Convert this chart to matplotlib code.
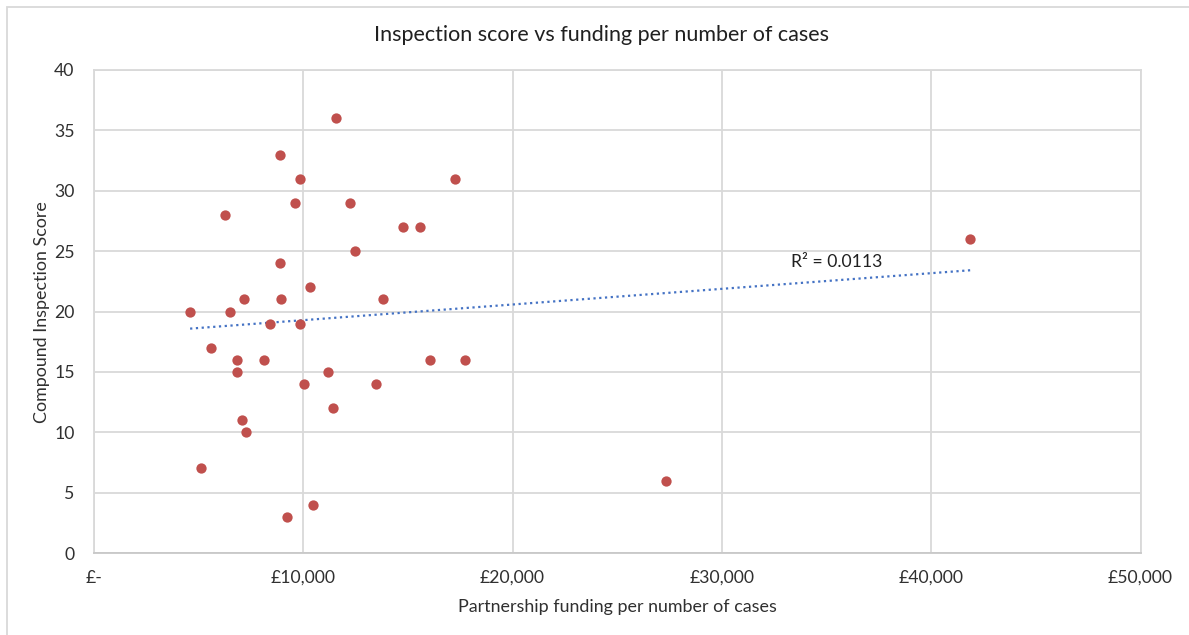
import numpy as np
import matplotlib
matplotlib.use("Agg")
import matplotlib.pyplot as plt
from matplotlib.ticker import FuncFormatter, MultipleLocator
from matplotlib.patches import Rectangle

plt.rcParams['font.family'] = ['Lato', 'DejaVu Sans']

funding = [4592, 5102, 5609, 6263, 6516, 6821, 6835, 7059, 7155, 7279,
           8124, 8396, 8888, 8888, 8935, 9236, 9618, 9828, 9857, 10033,
           10334, 10477, 11193, 11403, 11560, 12229, 12453, 13470, 13819,
           14759, 15570, 16033, 17241, 17718, 27346, 41870]
score = [20, 7, 17, 28, 20, 16, 15, 11, 21, 10,
         16, 19, 33, 24, 21, 3, 29, 19, 31, 14,
         22, 4, 15, 12, 36, 29, 25, 14, 21,
         27, 27, 16, 31, 16, 6, 26]

title = "Inspection score vs funding per number of cases"
xlabel = "Partnership funding per number of cases"
ylabel = "Compound Inspection Score"
r2_label = "R\u00b2 = 0.0113"

W, H = 1189, 635
fig = plt.figure(figsize=(W / 100, H / 100), dpi=100)
ax = fig.add_axes([94 / W, 1 - 553 / H, (1140.5 - 94) / W, (553 - 70) / H])

grid_c = '#d9d9d9'
ax.set_xlim(0, 50000)
ax.set_ylim(0, 40)
ax.xaxis.set_major_locator(MultipleLocator(10000))
ax.yaxis.set_major_locator(MultipleLocator(5))
ax.grid(True, color=grid_c, linewidth=1.3)
ax.set_axisbelow(True)
for s in ax.spines.values():
    s.set_color(grid_c)
    s.set_linewidth(1.3)
ax.spines['bottom'].set_color('#c8c8c8')

def money(v, pos):
    if v == 0:
        return "\u00a3-"
    return "\u00a3{:,.0f}".format(v)

ax.xaxis.set_major_formatter(FuncFormatter(money))
ax.tick_params(axis='both', length=0, labelsize=12.7, colors='#303030')
ax.tick_params(axis='x', pad=12)
ax.tick_params(axis='y', pad=14)

ax.scatter(funding, score, s=55, color='#C0504D', zorder=3, linewidths=0)

x = np.array(funding, dtype=float)
y = np.array(score, dtype=float)
m, b = np.polyfit(x, y, 1)
xs = np.array([x.min(), x.max()])
ax.plot(xs, m * xs + b, linestyle=(0, (1, 1.6)), color='#4472C4', linewidth=1.6, zorder=2)
ax.text(33300, 24.1, r2_label, fontsize=12.7, color='#202020', va='center', ha='left')

fig.text(601 / W, 1 - 35 / H, title, ha='center', va='center', fontsize=15.5, color='#202020')
fig.text(617 / W, 1 - 607 / H, xlabel, ha='center', va='center', fontsize=12.9, color='#303030')
fig.text(42 / W, 1 - 312 / H, ylabel, ha='center', va='center', rotation=90, fontsize=12.9, color='#303030')

fig.patches.append(Rectangle((7 / W, -0.1), 1.2, 1 - 7 / H + 0.1, transform=fig.transFigure,
                             fill=False, edgecolor='#d9d9d9', linewidth=1.3))

fig.savefig("out.png", dpi=100, facecolor='white')
